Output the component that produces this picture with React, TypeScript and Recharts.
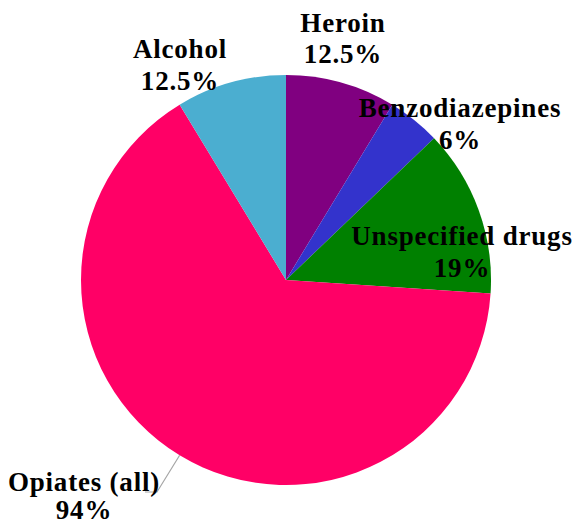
import { PieChart, Pie, Cell } from 'recharts';

const categories = ['Heroin', 'Benzodiazepines', 'Unspecified drugs', 'Opiates (all)', 'Alcohol'];
const values = [12.5, 6, 19, 94, 12.5];
const colors = ['#800080', '#3333CC', '#008000', '#FF0066', '#4BAED0'];

const data = categories.map((name, i) => ({ name, value: values[i] }));

// label placement relative to pie centre: [dx, dy of first baseline, line gap]
const labelPos: [number, number, number][] = [
  [57, -248, 31],
  [174, -163, 32],
  [176, -35, 32],
  [-202, 211, 28],
  [-106, -222, 32],
];
const RAD = Math.PI / 180;

const renderLabel = (props: any) => {
  const { cx, cy, index, midAngle, outerRadius, name, value } = props;
  const [dx, dy, gap] = labelPos[index];
  const x = cx + dx;
  const y = cy + dy;
  let leader = null;
  if (index === 3) {
    const sx = cx + outerRadius * Math.cos(-midAngle * RAD);
    const sy = cy + outerRadius * Math.sin(-midAngle * RAD);
    const ex = x + 73;
    const ey = y + 1;
    leader = (
      <polyline
        points={`${sx},${sy} ${ex},${ey} ${ex - 12},${ey}`}
        fill="none"
        stroke="#a6a6a6"
        strokeWidth={1.2}
      />
    );
  }
  return (
    <g>
      {leader}
      <text
        x={x}
        y={y}
        textAnchor="middle"
        fill="#000"
        fontFamily="'Liberation Serif', serif"
        fontWeight="bold"
        fontSize={27}
        letterSpacing={0.8}
      >
        <tspan x={x} y={y}>{name}</tspan>
        <tspan x={x} y={y + gap}>{value}%</tspan>
      </text>
    </g>
  );
};

export default function App() {
  return (
    <div style={{ position: 'absolute', left: 0, top: 0, width: 576, height: 525, background: '#fff' }}>
      <style>{'.pie-main .recharts-pie-sectors { filter: drop-shadow(2px 3px 5px rgba(0,0,0,0.32)); }'}</style>
      <PieChart width={576} height={525} margin={{ top: 0, right: 0, bottom: 0, left: 0 }}>
        <Pie
          className="pie-main"
          data={data}
          dataKey="value"
          nameKey="name"
          cx={286}
          cy={280}
          outerRadius={205}
          startAngle={90}
          endAngle={-270}
          stroke="none"
          label={renderLabel}
          labelLine={false}
          isAnimationActive={false}
        >
          {data.map((d, i) => (
            <Cell key={d.name} fill={colors[i]} />
          ))}
        </Pie>
      </PieChart>
    </div>
  );
}
